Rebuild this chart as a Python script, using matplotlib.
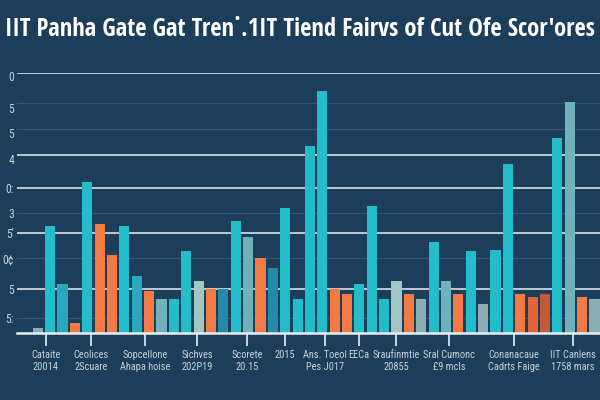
import matplotlib.pyplot as plt

# 数据
values = [2, 41, 19, 4, 58, 42, 30, 41, 22, 16, 13, 13, 31.5, 20, 17, 17,
          43, 37, 29, 25, 48, 13, 72, 93, 17, 15, 19, 49, 13, 20, 15, 13,
          35, 20, 15, 31.5, 11, 32, 65, 15, 14, 15, 75, 89, 14, 13]
kinds = ['grey', 'teal', 'mid', 'orange', 'teal', 'orange', 'orange', 'teal',
         'mid', 'orange', 'greyteal', 'teal', 'teal', 'light', 'orange', 'dark',
         'teal', 'greyteal', 'orange', 'dark', 'teal', 'teal', 'teal', 'teal',
         'orange', 'orange', 'teal', 'teal', 'teal', 'light', 'orange', 'grey',
         'teal', 'greyteal', 'orange', 'teal', 'grey', 'teal', 'teal', 'orange',
         'darkorange', 'brown', 'teal', 'greyteal', 'orange', 'grey']

xtick_labels = ['Cataite\n20014', 'Ceolices\n2Scuare', 'Sopcellone\nAhapa hoise',
                'Sichves\n202P19', 'Scorete\n20.15', '2015', 'Ans. Toeol\nPes J017',
                'EECa', 'Sraufinmtie\n20855', 'Sral Cumonc\n£9 mcls',
                'Conanacaue\nCadrts Faige', 'IIT Canlens\n1758 mars']
ytick_values = [98.8, 86.5, 76.9, 66.9, 55.8, 46.2, 38.5, 28.8, 16.9, 5.8]
ytick_labels = ['0', '5', '5', '4', '0:', '3', "5'", '0¢', '5', '5:']

title = "IIT Panha Gate Gat Tren˙.1IT Tiend Fairvs of Cut Ofe Scor'ores"

# 样式
palette = {'teal': '#22bccb', 'mid': '#2aa6bd', 'dark': '#2789a8',
           'greyteal': '#6fb2ba', 'light': '#a2c7c2', 'grey': '#8aaeb1',
           'orange': '#f27a45', 'darkorange': '#e0653d', 'brown': '#c45a3a'}
bg = '#1d3e5b'
title_font = ['Open Sans Condensed', 'DejaVu Sans']
tick_font = ['Roboto Condensed', 'DejaVu Sans']
xtick_pos = [0.63, 4.33, 8.68, 12.87, 16.9, 19.97, 23.19, 25.93, 28.99, 33.26, 38.5, 43.25]
bright_grid = [100, 68.5, 55.8, 38.5, 16.9]
faint_grid = [88.5, 78.5, 46.2, 28.8, 5.8]

fig = plt.figure(figsize=(6, 4), dpi=100, facecolor=bg)
ax = fig.add_axes([0.028, 0.1675, 0.972, 0.65])
ax.set_facecolor(bg)

for y in faint_grid:
    ax.axhline(y, color='#33557a', lw=0.8, zorder=0)
for y in bright_grid:
    ax.axhline(y, color='#c9d5de', lw=1.3, zorder=1)

x = list(range(len(values)))
colors = [palette[k] for k in kinds]
ax.bar(x, values, width=0.82, color=colors, zorder=2)

ax.set_xlim(-1.7, 45.45)
ax.set_ylim(0, 100)

for s in ['top', 'right', 'left']:
    ax.spines[s].set_visible(False)
ax.spines['bottom'].set_color('#e8eef2')
ax.spines['bottom'].set_linewidth(1.8)
ax.spines['bottom'].set_zorder(3)

ax.set_xticks(xtick_pos)
ax.set_xticklabels(xtick_labels, fontsize=7.5, color='#c5d3dc', linespacing=1.35,
                   family=tick_font)
ax.tick_params(axis='x', length=9, width=1.2, color='#e8eef2', pad=3)

ax.set_yticks(ytick_values)
ax.set_yticklabels(ytick_labels, fontsize=8.5, color='#c5d3dc', family=tick_font)
ax.tick_params(axis='y', length=0, pad=2)

t = fig.text(0.008, 0.925, title, fontsize=18, fontweight='bold', color='white',
             va='center', ha='left', family=title_font)
# 标题过宽时缩小字号
r = fig.canvas.get_renderer()
while t.get_window_extent(r).x1 > 597:
    t.set_fontsize(t.get_fontsize() - 0.25)

plt.savefig('out.png', dpi=100, facecolor=bg)
